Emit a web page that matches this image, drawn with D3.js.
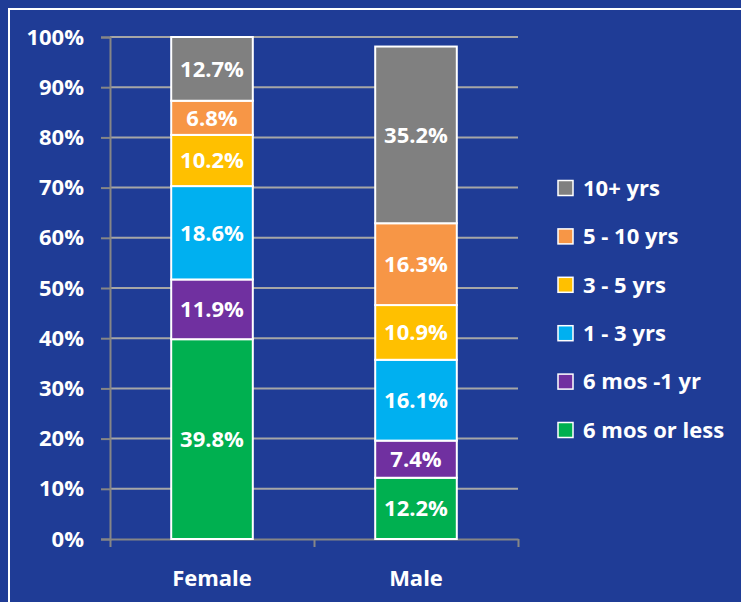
<!DOCTYPE html>
<html>
<head>
<meta charset="utf-8">
<script src="https://cdn.jsdelivr.net/npm/d3@7/dist/d3.min.js"></script>
<style>
  html, body { margin: 0; padding: 0; background: #1f3c96; }
  svg { display: block; }
  text { font-family: "Open Sans", sans-serif; font-weight: bold; fill: #fff; }
</style>
</head>
<body>
<div id="chart"></div>
<script>
// categories on the x axis
var groups = ["Female", "Male"];
// series, bottom to top
var series = ["6 mos or less", "6 mos -1 yr", "1 - 3 yrs", "3 - 5 yrs", "5 - 10 yrs", "10+ yrs"];
var colors = ["#00b050", "#7030a0", "#00b0f0", "#ffc000", "#f79646", "#808080"];
// percent values per group, same order as series
var female = [39.8, 11.9, 18.6, 10.2, 6.8, 12.7];
var male = [12.2, 7.4, 16.1, 10.9, 16.3, 35.2];
var yTicks = [0, 10, 20, 30, 40, 50, 60, 70, 80, 90, 100];

var W = 741, H = 602;
var margin = {top: 37, left: 110, bottom: 63, right: 223};
var width = 518 - margin.left,
    height = 539 - margin.top;

var svg = d3.select("#chart").append("svg")
    .attr("width", W)
    .attr("height", H);

// white frame (top and left edges visible)
svg.append("rect")
    .attr("x", 9).attr("y", 9)
    .attr("width", W + 20).attr("height", H + 20)
    .attr("fill", "none")
    .attr("stroke", "#fff")
    .attr("stroke-width", 2);

var g = svg.append("g")
    .attr("transform", "translate(" + margin.left + "," + margin.top + ")");

var x = d3.scaleBand().domain(groups).range([0, width]).paddingInner(0.6).paddingOuter(0.3);
var y = d3.scaleLinear().domain([0, 100]).range([height, 0]);

// gridlines
g.selectAll(".grid")
    .data(yTicks.filter(d => d > 0))
    .enter().append("line")
    .attr("x1", 0).attr("x2", width)
    .attr("y1", d => y(d)).attr("y2", d => y(d))
    .attr("stroke", "#a6a6a6")
    .attr("stroke-width", 2);

// y axis
var yAxis = g.append("g")
    .call(d3.axisLeft(y).tickValues(yTicks).tickFormat(d => d + "%").tickSize(9).tickPadding(17));
yAxis.select(".domain").attr("stroke", "#868686").attr("stroke-width", 2);
yAxis.selectAll(".tick line").attr("stroke", "#868686").attr("stroke-width", 2);
yAxis.selectAll("text").attr("font-size", 22).attr("fill", "#fff")
    .style("font-family", "'Open Sans', sans-serif").style("font-weight", "bold");

// x axis (ticks at band boundaries)
var xEdge = d3.scaleLinear().domain([0, 2]).range([0, width]);
var xAxis = g.append("g")
    .attr("transform", "translate(0," + height + ")")
    .call(d3.axisBottom(xEdge).tickValues([0, 1, 2]).tickFormat("").tickSize(8).tickSizeOuter(0));
xAxis.select(".domain").attr("stroke", "#868686").attr("stroke-width", 2);
xAxis.selectAll(".tick line").attr("stroke", "#868686").attr("stroke-width", 2);

g.selectAll(".cat")
    .data(groups)
    .enter().append("text")
    .attr("x", d => x(d) + x.bandwidth() / 2)
    .attr("y", height + 39)
    .attr("dy", "0.35em")
    .attr("text-anchor", "middle")
    .attr("font-size", 22)
    .text(d => d);

// stacked bars
var rows = groups.map(function(name, i) {
    var vals = i === 0 ? female : male;
    var row = {group: name};
    series.forEach((s, j) => row[s] = vals[j]);
    return row;
});
var stacked = d3.stack().keys(series)(rows);

var layer = g.selectAll(".layer")
    .data(stacked)
    .enter().append("g")
    .attr("fill", (d, i) => colors[i]);

layer.selectAll("rect")
    .data(d => d)
    .enter().append("rect")
    .attr("x", d => x(d.data.group))
    .attr("width", x.bandwidth())
    .attr("y", d => y(d[1]))
    .attr("height", d => y(d[0]) - y(d[1]))
    .attr("stroke", "#fff")
    .attr("stroke-width", 2);

layer.selectAll("text")
    .data(d => d.map(p => ({p: p, key: d.key})))
    .enter().append("text")
    .attr("x", d => x(d.p.data.group) + x.bandwidth() / 2)
    .attr("y", d => (y(d.p[0]) + y(d.p[1])) / 2)
    .attr("dy", "0.36em")
    .attr("text-anchor", "middle")
    .attr("font-size", 22)
    .text(d => d.p.data[d.key].toFixed(1) + "%");

// legend, top to bottom
var legend = svg.append("g").attr("transform", "translate(558,188)");
var items = series.slice().reverse();
var itemColors = colors.slice().reverse();
var li = legend.selectAll(".item")
    .data(items)
    .enter().append("g")
    .attr("transform", (d, i) => "translate(0," + (i * 48.4) + ")");
li.append("rect")
    .attr("x", 0).attr("y", -7.5)
    .attr("width", 15).attr("height", 15)
    .attr("fill", (d, i) => itemColors[i])
    .attr("stroke", "#fff")
    .attr("stroke-width", 1.5);
li.append("text")
    .attr("x", 25)
    .attr("dy", "0.35em")
    .attr("font-size", 22)
    .text(d => d);
</script>
</body>
</html>
